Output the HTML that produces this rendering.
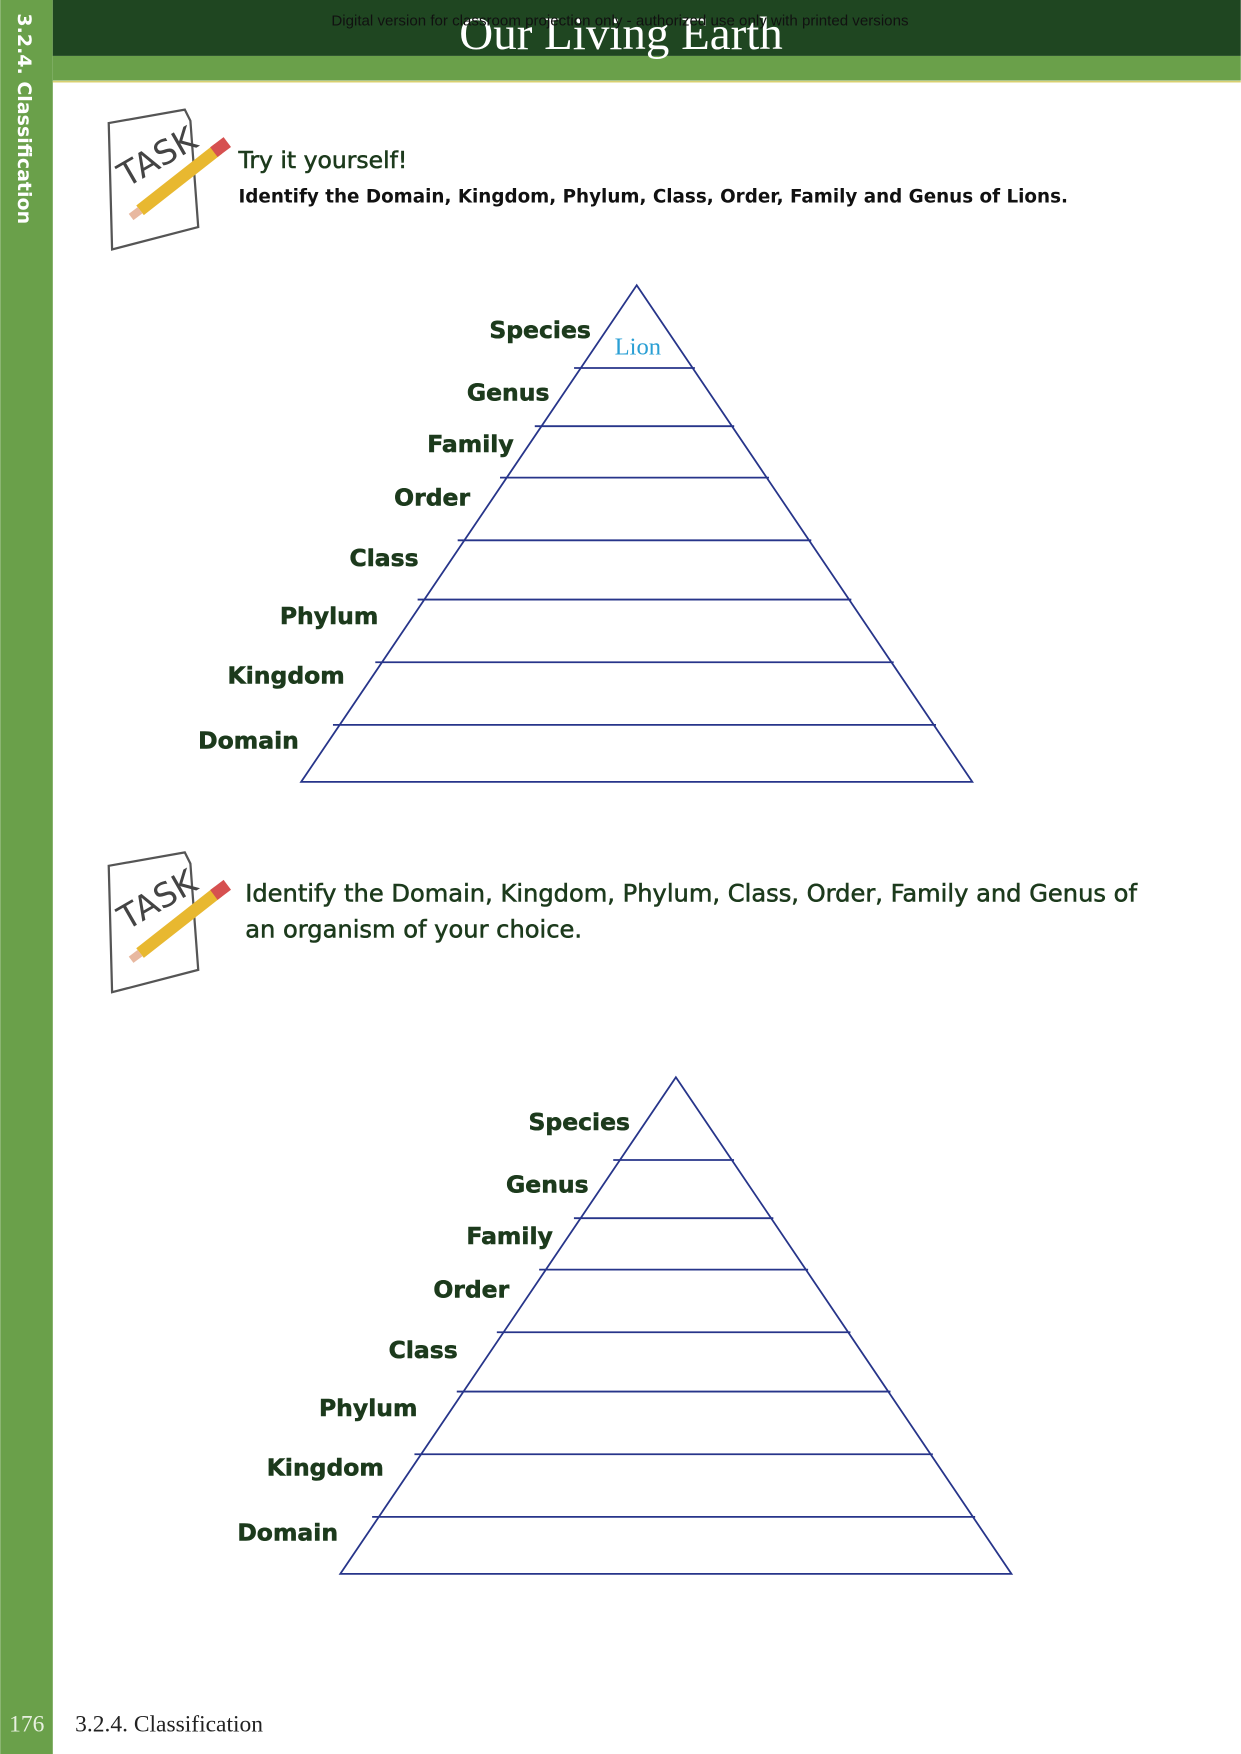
<!DOCTYPE html>
<html><head><meta charset="utf-8"><style>
html,body{margin:0;padding:0;background:#fff;}
svg{display:block;}
text{font-family:"DejaVu Sans","Liberation Sans",sans-serif;}
.lbl{font-size:21px;fill:#1c3a1c;font-weight:600;stroke:#1c3a1c;stroke-width:0.5;}
.serif{font-family:"Liberation Serif",serif;}
</style></head><body>
<svg id="page" width="1241" height="1754" viewBox="0 0 1109 1568" xmlns="http://www.w3.org/2000/svg">
<rect width="1109" height="1568" fill="#fff"/>
<rect x="0" y="0" width="47" height="1568" fill="#6aa04a"/>
<rect x="47" y="0" width="1062" height="50" fill="#1f4621"/>
<rect x="47" y="50" width="1062" height="22" fill="#6aa04a"/>
<line x1="47" y1="73" x2="1109" y2="73" stroke="#d8d070" stroke-width="1.5"/>
<text transform="translate(16,12) rotate(90)" font-size="17" font-weight="bold" fill="#fff">3.2.4. Classification</text>
<text class="serif" x="555" y="44" text-anchor="middle" font-size="42" fill="#fff">Our Living Earth</text>
<text x="554" y="23" text-anchor="middle" font-size="13.5" fill="#111" style="font-family:'Liberation Sans',sans-serif">Digital version for classroom projection only - authorized use only with printed versions</text>

<g id="task1"></g>
<g id="task2"></g>

<text x="213" y="150" font-size="21" fill="#1c3a1c" stroke="#1c3a1c" stroke-width="0.5">Try it yourself!</text>
<text x="213" y="181" font-size="16.4" font-weight="bold" fill="#111">Identify the Domain, Kingdom, Phylum, Class, Order, Family and Genus of Lions.</text>
<text x="219" y="806" font-size="21.6" fill="#1c3a1c" stroke="#1c3a1c" stroke-width="0.5">Identify the Domain, Kingdom, Phylum, Class, Order, Family and Genus of</text>
<text x="219" y="838" font-size="21.6" fill="#1c3a1c" stroke="#1c3a1c" stroke-width="0.5">an organism of your choice.</text>

<g id="pyr1"></g>
<g id="pyr2"></g>

<text class="serif" x="8" y="1548" font-size="21" fill="#e8f0e0">176</text>
<text class="serif" x="67" y="1548" font-size="21" fill="#222">3.2.4. Classification</text>
</svg>
<script>
const levels = ["Species","Genus","Family","Order","Class","Phylum","Kingdom","Domain"];
const dividerY = [74,126,172,228,281,337,393];
const labelY = [40,96,142,190,244,296,349,407];
const labelX = [-41,-78,-110,-149,-195,-231,-261,-302];
const answers1 = ["Lion","","","","","","",""];
const baseHeight = 444, halfBase = 300;
const NS="http://www.w3.org/2000/svg";
function el(t,a,p){const e=document.createElementNS(NS,t);for(const k in a)e.setAttribute(k,a[k]);p.appendChild(e);return e;}
function drawPyramid(g,ax,ay,answers){
  const tri=el('polygon',{points:`${ax},${ay} ${ax-halfBase},${ay+baseHeight} ${ax+halfBase},${ay+baseHeight}`,fill:'none',stroke:'#27358a','stroke-width':1.6},g);
  
  
  dividerY.forEach((dy,i)=>{
    const w=dy*halfBase/baseHeight;
    const l=el('line',{x1:ax-w-6,y1:ay+dy,x2:ax+w+2,y2:ay+dy,stroke:'#27358a','stroke-width':1.6},g);
    
    
  });
  levels.forEach((n,i)=>{
    const t=el('text',{x:ax+labelX[i],y:ay+labelY[i]+7,'text-anchor':'end',class:'lbl'},g);
    t.textContent=n;
    
    
    if(answers && answers[i]){
      const a=el('text',{x:ax+1,y:ay+62,'text-anchor':'middle','font-size':22,fill:'#2a9fd4',class:'serif'},g);
      a.textContent=answers[i];
      
      
    }
  });
}
drawPyramid(document.getElementById('pyr1'),569,255,answers1);
drawPyramid(document.getElementById('pyr2'),604,963,null);
function drawTask(g,x,y){
  el('path',{d:`M${x+2},${y+12} L${x+70},${y} L${x+75},${y+10} L${x+82},${y+105} L${x+5},${y+125} Z`,fill:'#fff',stroke:'#555','stroke-width':2},g);
  const t=el('text',{transform:`translate(${x+18},${y+70}) rotate(-30)`,'font-size':30,fill:'#444','font-family':'Liberation Sans'},g);
  t.textContent='TASK';
  el('line',{x1:x+30,y1:y+90,x2:x+100,y2:y+35,stroke:'#e8b830','stroke-width':11},g);
  el('line',{x1:x+96,y1:y+38,x2:x+108,y2:y+29,stroke:'#d65050','stroke-width':11},g);
  el('line',{x1:x+30,y1:y+90,x2:x+22,y2:y+96,stroke:'#e8b8a0','stroke-width':7},g);
}
drawTask(document.getElementById('task1'),95,98);
drawTask(document.getElementById('task2'),95,762);
</script>
</body></html>
